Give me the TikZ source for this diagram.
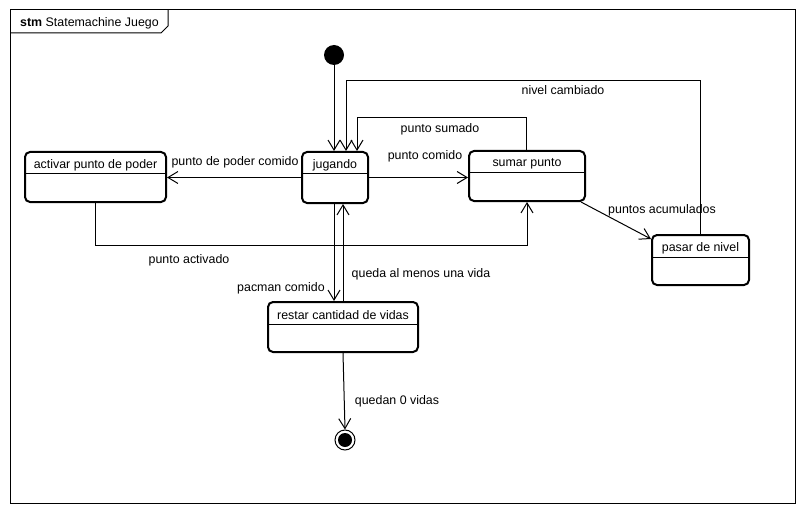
\documentclass[tikz,border=0pt]{standalone}
\usepackage{fontspec}
\setmainfont{Liberation Sans}
\usetikzlibrary{arrows.meta,calc}
\begin{document}
\begin{tikzpicture}[x=1pt,y=-1pt,
  every node/.style={font=\fontsize{12.4}{14}\selectfont},
  state/.style={draw,line width=2pt,rounded corners=5pt,inner sep=0pt},
  conn/.style={line width=1pt},
  arr/.style={conn,-{Straight Barb[length=10pt,width=12pt,line width=1pt]}},
  lbl/.style={inner sep=0pt}]
\useasboundingbox (0,0) rectangle (805,513);
% frame with its name tab
\draw[line width=1pt] (10,10) rectangle (795,503);
\draw[line width=1pt] (10,33) -- (161,33) -- (168,26) -- (168,10);
\node[lbl,anchor=west] (title) at (20,23) {\textbf{stm} Statemachine Juego};

% states
\newcommand{\umlstate}[6]{%
  \node[state,minimum width=#4,minimum height=#5] (#1) at (#2,#3) {};
  \draw[line width=1pt] ($(#1.north west)+(0,23)$) -- ($(#1.north east)+(0,23)$);
  \node[lbl] at ($(#1.north)+(0,14)$) {#6};}
\umlstate{jug}{335}{177.5}{66}{51}{jugando}
\umlstate{sum}{527}{176}{116}{50}{sumar punto}
\umlstate{act}{95.5}{177}{141}{50}{activar punto de poder}
\umlstate{pas}{700.5}{260}{97}{50}{pasar de nivel}
\umlstate{res}{343}{327}{150}{50}{restar cantidad de vidas}

% pseudo states
\node[circle,fill=black,minimum size=20pt,inner sep=0pt] (init) at (334,55) {};
\node[circle,draw,line width=1pt,minimum size=20pt,inner sep=0pt] (fin) at (345,440) {};
\fill (fin) circle (7pt);

% transitions
\draw[arr] (init.south) -- (init.south |- jug.north);
\draw[arr] (pas.north) -- (pas.north |- 0,81) -| ([xshift=11pt]jug.north);
\draw[arr] ([xshift=-1pt]sum.north) -- ([xshift=-1pt]sum.north |- 0,118) -| ([xshift=22pt]jug.north);
\draw[arr] (jug.east) -- (sum.west |- jug.east);
\draw[arr] (jug.west) -- (act.east |- jug.west);
\draw[arr] (act.south) -- (act.south |- 0,245) -| (sum.south);
\draw[arr] ([xshift=-5pt]sum.south east) -- ([yshift=-5pt]pas.north west);
\draw[arr] ([xshift=-1pt]jug.south) -- ([xshift=-9pt]res.north);
\draw[arr] (res.north) -- ([xshift=8pt]jug.south);
\draw[arr] (res.south) -- (fin.north);

% transition labels
\node[lbl] (l1) at (563,90.5) {nivel cambiado};
\node[lbl] (l2) at (440,129.5) {punto sumado};
\node[lbl] (l3) at (425,156.5) {punto comido};
\node[lbl] (l4) at (235,162.5) {punto de poder comido};
\node[lbl] (l5) at (189,260.5) {punto activado};
\node[lbl] (l6) at (662,210.5) {puntos acumulados};
\node[lbl] (l7) at (281,288.5) {pacman comido};
\node[lbl] (l8) at (421,274.5) {queda al menos una vida};
\node[lbl] (l9) at (397,401.5) {quedan 0 vidas};
\end{tikzpicture}
\end{document}
